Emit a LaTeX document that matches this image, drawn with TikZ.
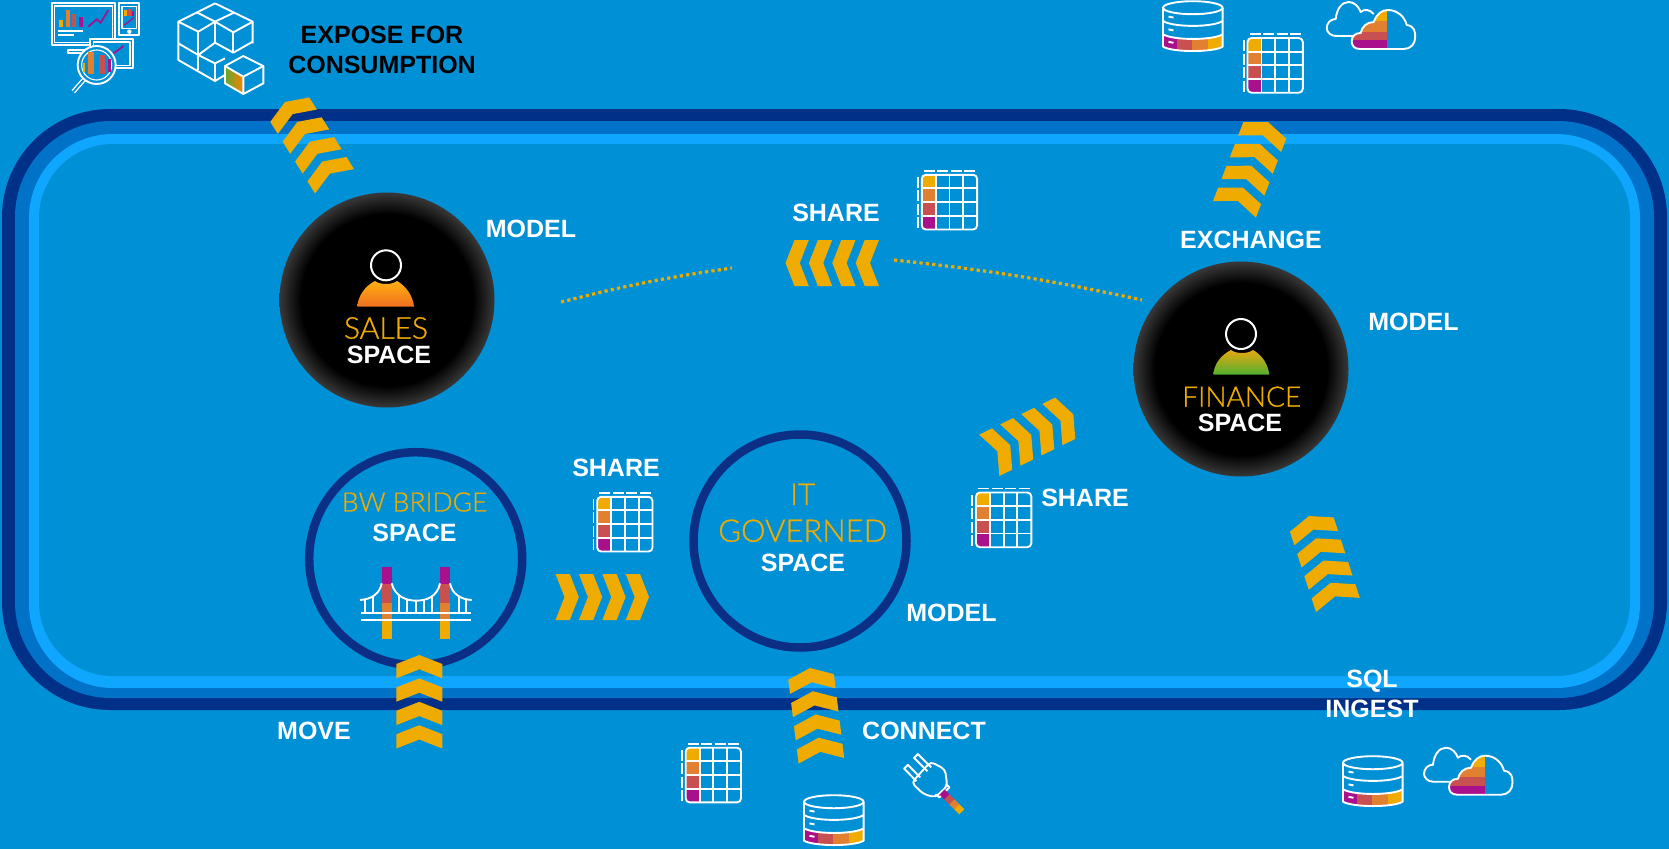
\documentclass[tikz,border=0pt]{standalone}
\usepackage{fontspec}
\setmainfont{Liberation Sans}
\newfontfamily\lightfont[FakeBold=0.9]{Lato Light}
\definecolor{bgblue}{HTML}{0090D6}
\definecolor{rdark}{HTML}{003087}
\definecolor{rmid}{HTML}{0072C8}
\definecolor{rlight}{HTML}{0FA6FF}
\definecolor{cyel}{HTML}{F0AB00}
\definecolor{cora}{HTML}{E08030}
\definecolor{cred}{HTML}{C85050}
\definecolor{cpur}{HTML}{A8108C}
\definecolor{ringblue}{HTML}{0A2F85}
\definecolor{ptop}{HTML}{FFB010}
\definecolor{pbot}{HTML}{F07020}
\definecolor{ftop}{HTML}{E8A810}
\definecolor{fmid}{HTML}{A8B020}
\definecolor{fbot}{HTML}{50B030}
\definecolor{cubegreen}{HTML}{5FA830}
\pgfdeclareradialshading{ballgrad}{\pgfpoint{0bp}{0bp}}{color(0bp)=(black);color(20bp)=(black);color(25bp)=(black!78!white);color(50bp)=(black!78!white)}
\tikzset{
  lbl/.style={inner sep=0pt,text=white,font=\fontsize{25}{30}\selectfont\bfseries,align=center},
  lbldark/.style={lbl,text=black},
  lbllight/.style={inner sep=0pt,text=cyel,font=\fontsize{30}{34}\selectfont\lightfont},
  ball/.style={circle,minimum size=215pt,inner sep=0pt,shading=ballgrad},
  ringnode/.style={circle,minimum size=213pt,inner sep=0pt,draw=ringblue,line width=8.5pt},
  chev/.style={fill=cyel},
  icon/.style={draw=white,line width=1.9pt,line join=round},
  zoomed/.style={x=.33333pt,y=-.33333pt},
  dotline/.style={draw=cyel,line width=3.2pt,dash pattern=on 3.2pt off 3.2pt},
  tableicon/.pic={
    \begin{scope}
      \clip[rounded corners=4pt] (0,0) rectangle (55.3,54.7);
      \fill[cyel] (0,0) rectangle (14,13.6);
      \fill[cora] (0,13.6) rectangle (14,27.4);
      \fill[cred] (0,27.4) rectangle (14,41);
      \fill[cpur] (0,41) rectangle (14,54.7);
    \end{scope}
    \draw[icon] (0,0) [rounded corners=4pt] rectangle (55.3,54.7);
    \draw[icon] (14,0)--(14,54.7) (27.7,0)--(27.7,54.7) (41.4,0)--(41.4,54.7)
       (0,13.6)--(55.3,13.6) (0,27.4)--(55.3,27.4) (0,41)--(55.3,41);
    \draw[icon,dash pattern=on 11pt off 2.5pt] (2,-4)--(55,-4);
    \draw[icon,dash pattern=on 11pt off 2.5pt] (-3.7,2)--(-3.7,54);
  },
  dbicon/.pic={
    \begin{scope}
      \clip (0,33.3) .. controls (10,39.5) and (50,39.5) .. (59.6,33.3) -- (59.6,45.7) .. controls (50,51.5) and (10,51.5) .. (0,45.7) -- cycle;
      \fill[cpur] (0,30) rectangle (14.4,52);
      \fill[cred] (14.4,30) rectangle (29.4,52);
      \fill[cora] (29.4,30) rectangle (44.5,52);
      \fill[cyel] (44.5,30) rectangle (59.6,52);
    \end{scope}
    \draw[icon] (29.8,6.7) ellipse [x radius=29.8,y radius=6.5];
    \draw[icon] (0,6.7)--(0,45.7) .. controls (10,51.5) and (50,51.5) .. (59.6,45.7)--(59.6,6.7);
    \draw[icon] (0,20) .. controls (10,26.5) and (50,26.5) .. (59.6,20);
    \draw[icon] (0,33.3) .. controls (10,39.5) and (50,39.5) .. (59.6,33.3);
    \draw[icon] (5.5,15.6)--(10.5,16.6) (5.5,28.4)--(10.5,29.4) (5.5,40.8)--(10.5,41.8);
  },
  cloudicon/.pic={
    \draw[icon] (27,35) -- (9,35) .. controls (4,35) and (0,31) .. (0,27) .. controls (0,22) and (4,18) .. (9,18)
      .. controls (10,8) and (15,1) .. (22,1) .. controls (28,1) and (32,6) .. (34,11) .. controls (37,8) and (43,8) .. (47,13);
    \begin{scope}
      \clip (33,48) .. controls (27,48) and (25,44) .. (25,40) .. controls (25,35) and (29,32) .. (34,32)
       .. controls (35,26) and (40,21) .. (47,21) .. controls (50,13) and (55,9) .. (61,9)
       .. controls (71,9) and (78,16) .. (80,24) .. controls (88,25) and (88.5,31) .. (88.5,36)
       .. controls (88.5,43) and (84,48) .. (77,48) -- cycle;
      \fill[cyel] (20,5) rectangle (60.7,20);
      \fill[cora] (20,20) rectangle (60.7,30.7);
      \fill[cred] (20,30.7) rectangle (60.7,39);
      \fill[cpur] (20,39) rectangle (60.7,50);
    \end{scope}
    \draw[icon] (33,48) .. controls (27,48) and (25,44) .. (25,40) .. controls (25,35) and (29,32) .. (34,32)
       .. controls (35,26) and (40,21) .. (47,21) .. controls (50,13) and (55,9) .. (61,9)
       .. controls (71,9) and (78,16) .. (80,24) .. controls (88,25) and (88.5,31) .. (88.5,36)
       .. controls (88.5,43) and (84,48) .. (77,48) -- cycle;
  },
  chevstack/.pic={
    \foreach \k in {0,1,2,3}{
      \fill[chev,shift={(0,\k*23.4)}] (0,0) -- (23,9) -- (23,23.3) -- (0,14.3) -- (-23,23.3) -- (-23,9) -- cycle;
    }
  },
}
\begin{document}
\begin{tikzpicture}[x=1pt,y=-1pt]
\useasboundingbox (0,0) rectangle (1669,849);
\fill[bgblue] (0,0) rectangle (1669,849);
% ring bands
\fill[rdark,rounded corners=108pt] (2,109) rectangle (1667,710);
\fill[rmid,rounded corners=96pt] (15,121) rectangle (1654,698);
\fill[rlight,rounded corners=84pt] (29,134) rectangle (1640,688);
\fill[bgblue,rounded corners=74pt] (39,144) rectangle (1630,676);

% spaces
\node[ball] (sales) at (387,300) {};
\node[ball] (finance) at (1241,369) {};
\node[ringnode] (bw) at (415.7,558.7) {};
\node[ringnode] (it) at (800,541) {};

% persons
\shade[top color=ptop,bottom color=pbot] (357.3,306.5) .. controls (358,296) and (365,286) .. (375,281) .. controls (380,285) and (392,285) .. (397,281) .. controls (406,286) and (413,296) .. (414,306.5) -- cycle;
\draw[icon,line width=2pt] (386,265.3) circle (15);
\shade[top color=ftop,middle color=fmid,bottom color=fbot] (1213.3,374.7) .. controls (1214,364) and (1221,355) .. (1231,350) .. controls (1236,354) and (1248,354) .. (1253,350) .. controls (1262,355) and (1268,364) .. (1269.3,374.7) -- cycle;
\draw[icon,line width=2pt] (1241,334) circle (15);

% space labels
\node[lbllight] (salesname) at (386,328) {SALES};
\node[lbl] (salesspace) at (389,355) {SPACE};
\node[lbllight,font=\fontsize{28}{32}\selectfont\lightfont] (finname) at (1241.7,396.7) {FINANCE};
\node[lbl] (finspace) at (1240,423) {SPACE};
\node[lbllight,font=\fontsize{26.5}{30}\selectfont\lightfont] (bwname) at (414.7,502) {BW BRIDGE};
\node[lbl] (bwspace) at (414.5,533) {SPACE};
\node[lbllight] (itname) at (802.7,494.3) {IT};
\node[lbllight,font=\fontsize{31}{34}\selectfont\lightfont] (govname) at (802.7,530.7) {GOVERNED};
\node[lbl] (itspace) at (803,563.3) {SPACE};

% side labels
\node[lbldark] (expose) at (382,50) {EXPOSE FOR\\CONSUMPTION};
\node[lbl] (m1) at (531,229) {MODEL};
\node[lbl] (s1) at (836,213) {SHARE};
\node[lbl] (ex) at (1251,239.5) {EXCHANGE};
\node[lbl] (m2) at (1413.5,321.5) {MODEL};
\node[lbl] (s2) at (616,468) {SHARE};
\node[lbl] (s3) at (1085,498) {SHARE};
\node[lbl] (m3) at (951.5,613) {MODEL};
\node[lbl] (mv) at (314,731) {MOVE};
\node[lbl] (cn) at (924,731) {CONNECT};
\node[lbl] (sq) at (1372,694) {SQL\\INGEST};

% dotted connectors
\coordinate (d1) at (561,302);
\coordinate (d2) at (732,268);
\coordinate (d3) at (894,260);
\coordinate (d4) at (1142,300);
\draw[dotline] (d1) to[bend left=3] (d2);
\draw[dotline] (d3) to[bend left=3] (d4);

% chevrons
\pic[rotate=32] at (285,102) {chevstack};
\pic[rotate=-21] at (1268,122) {chevstack};
\pic[rotate=18] at (1309,516) {chevstack};
\pic[rotate=-64] at (1073.3,414.3) {chevstack};
\pic[rotate=90] at (785.5,263) {chevstack};
\pic[rotate=-90] at (649,597) {chevstack};
\pic at (419.3,655) {chevstack};
\pic[rotate=7] at (810,668) {chevstack};

% tables
\pic at (1247.5,38) {tableicon};
\pic at (921.8,174.8) {tableicon};
\pic at (597.2,496.8) {tableicon};
\pic at (976,492.5) {tableicon};
\pic at (685.7,747.7) {tableicon};
% databases
\pic at (1163,1) {dbicon};
\pic at (804,795) {dbicon};
\pic at (1343,756) {dbicon};
% clouds
\pic at (1326.7,1) {cloudicon};
\pic at (1424,746.7) {cloudicon};

% bridge
\begin{scope}[shift={(300,440)},zoomed]
  \fill[cpur] (245,380) rectangle (275,433);
  \fill[cred] (245,433) rectangle (275,488);
  \fill[cora] (245,488) rectangle (275,543);
  \fill[cyel] (245,543) rectangle (275,597);
  \fill[cpur] (420,380) rectangle (450,433);
  \fill[cred] (420,433) rectangle (450,488);
  \fill[cora] (420,488) rectangle (450,543);
  \fill[cyel] (420,543) rectangle (450,597);
  \draw[icon] (182,518)--(512,518) (182,540)--(512,540);
  \draw[icon] (180,480) .. controls (215,478) and (240,460) .. (245,430);
  \draw[icon] (275,430) .. controls (285,470) and (320,482) .. (348,482) .. controls (380,482) and (412,470) .. (420,430);
  \draw[icon] (450,430) .. controls (456,460) and (480,478) .. (515,480);
  \draw[icon] (195,478)--(195,518) (218,472)--(218,518)
     (298,462)--(298,518) (322,476)--(322,518) (348,482)--(348,518) (372,478)--(372,518) (396,464)--(396,518)
     (476,472)--(476,518) (497,478)--(497,518);
\end{scope}

% dashboard icon
\begin{scope}[shift={(30,0)},zoomed]
  \draw[icon] (65,10) rectangle (255,135);
  \draw[icon,line width=1.1pt] (73,18) rectangle (247,127);
  \fill[cyel] (86,60) rectangle (100,82);
  \fill[cora] (107,30) rectangle (120,82);
  \fill[cred] (127,42) rectangle (138,82);
  \fill[cpur] (148,50) rectangle (159,82);
  \draw[cpur,line width=1.8pt] (175,80)--(200,58)--(212,68)--(235,30);
  \draw[icon] (85,93)--(160,93) (85,105)--(132,105);
  \draw[icon] (115,150)--(180,150)--(180,158)--(115,158)--cycle;
  \draw[icon,fill=bgblue] (180,118) rectangle (310,205);
  \draw[icon,line width=1.1pt] (190,126) rectangle (300,196);
  \draw[cpur,line width=1.8pt] (250,160)--(265,150)--(280,138);
  \draw[icon] (268,10) rectangle (328,105);
  \draw[icon,line width=1.1pt] (276,20) rectangle (320,85);
  \fill[cyel] (283,30) rectangle (290,48);
  \fill[cred] (295,28) rectangle (302,48);
  \fill[cpur] (306,34) rectangle (313,48);
  \draw[cpur,line width=1.3pt] (283,75)--(296,65)--(312,52);
  \fill[white] (298,95) circle (2.2pt);
  \draw[white,line width=4.6pt] (165,235)--(130,275);
  \draw[bgblue,line width=1.8pt] (165,235)--(130,275);
  \draw[icon,fill=bgblue] (200,195) circle (57);
  \draw[icon,line width=1.1pt] (200,195) circle (45);
  \fill[cyel] (158,190) rectangle (165,215);
  \fill[cora] (175,155) rectangle (192,222);
  \fill[cred] (207,165) rectangle (225,222);
  \fill[cpur] (235,178) rectangle (242,215);
\end{scope}

% cube icon
\begin{scope}[shift={(30,0)},zoomed]
  \draw[icon] (555,10)--(668,65)--(668,130) (555,10)--(445,65)--(445,180)--(555,243)--(585,225);
  \draw[icon] (445,65)--(505,95)--(555,65)--(610,97)--(668,65);
  \draw[icon] (500,37)--(555,65) (612,38)--(555,65);
  \draw[icon] (505,95)--(505,210) (555,65)--(555,127) (610,97)--(610,158);
  \draw[icon] (445,130)--(505,165)--(555,128)--(610,158) (668,125)--(610,158);
  \draw[icon] (555,190)--(555,243);
  \draw[icon] (505,165)--(555,190)--(585,175);
  \shade[left color=cubegreen,right color=orange] (585,198)--(640,230)--(640,282)--(585,250)--cycle;
  \draw[icon] (640,168)--(700,198)--(640,230)--(585,198)--cycle;
  \draw[icon] (585,198)--(585,250)--(640,282)--(700,250)--(700,198) (640,230)--(640,282);
\end{scope}

% plug icon
\begin{scope}[shift={(660,660)},zoomed]
  \draw[icon] (813.7,322.4)--(773.7,282.4)--(762.3,293.6)--(802.3,333.6);
  \draw[icon] (780.7,352.4)--(743.7,314.4)--(732.3,325.6)--(769.3,363.6);
  \draw[icon,rounded corners=4pt] (812,305)--(855,328)--(862,378)--(826,412)--(790,402)--(755,368)--cycle;
  \draw[icon] (826,403)--(838,412)--(868,382)--(858,372);
  \begin{scope}[shift={(846,396)},rotate=-45]
    \fill[cpur] (0,-11) rectangle (21,11);
    \fill[cred] (21,-11) rectangle (42,11);
    \fill[cora] (42,-11) rectangle (63,11);
    \fill[cyel] (63,-11) rectangle (84,11);
  \end{scope}
\end{scope}
\end{tikzpicture}
\end{document}
